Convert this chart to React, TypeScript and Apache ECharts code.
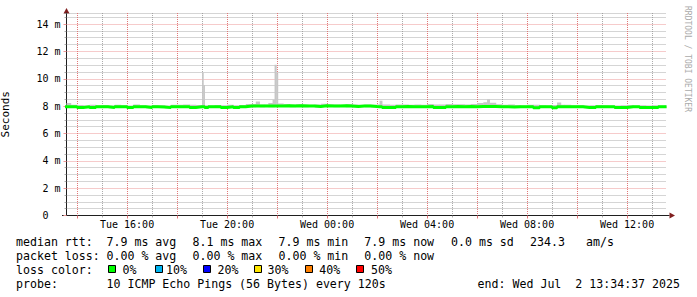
import React, { useEffect, useRef } from 'react';
import * as echarts from 'echarts';

// Time axis in hours since Tue 00:00 (24 = Wed 00:00)
const START = 13.5775; // Tue 13:34:39
const END = 37.5775; // Wed 13:34:37
const Y_MAX = 14.81; // milliseconds

const times = [
  13.5, 13.75, 14.0, 14.25, 14.5, 14.75, 15.0, 15.25, 15.5, 15.75,
  16.0, 16.25, 16.5, 16.75, 17.0, 17.25, 17.5, 17.75, 18.0, 18.25,
  18.5, 18.75, 19.0, 19.05, 19.1, 19.25, 19.5, 19.75, 20.0, 20.25,
  20.5, 20.75, 21.0, 21.15, 21.3, 21.5, 21.65, 21.82, 21.9, 21.97,
  22.03, 22.25, 22.5, 22.75, 23.0, 23.25, 23.5, 23.75, 24.0, 24.25,
  24.5, 24.75, 25.0, 25.25, 25.5, 25.75, 26.0, 26.1, 26.2, 26.5,
  26.75, 27.0, 27.25, 27.5, 27.75, 28.0, 28.25, 28.5, 28.75, 29.0,
  29.25, 29.5, 29.75, 30.0, 30.25, 30.4, 30.5, 30.75, 31.0, 31.25,
  31.5, 31.75, 32.0, 32.25, 32.5, 32.75, 33.0, 33.2, 33.35, 33.5,
  33.75, 34.0, 34.25, 34.5, 34.75, 35.0, 35.25, 35.5, 35.75, 36.0,
  36.25, 36.5, 36.75, 37.0, 37.25, 37.5, 37.58,
];

const median = [
  7.95, 7.96, 7.9, 7.95, 7.89, 7.96, 7.95, 7.9, 7.96, 7.95,
  7.89, 7.96, 7.95, 7.9, 7.96, 7.94, 7.89, 7.96, 7.95, 7.96,
  7.9, 7.95, 7.96, 7.95, 7.89, 7.95, 7.96, 7.9, 7.95, 7.89,
  7.96, 8.0, 8.0, 8.01, 8.0, 8.01, 8.0, 8.0, 8.01, 8.0,
  8.01, 8.02, 8.0, 8.02, 8.0, 8.01, 7.98, 8.02, 8.01, 8.0,
  8.02, 8.0, 7.98, 8.01, 8.0, 7.97, 7.96, 7.96, 7.9, 7.9,
  7.96, 7.97, 7.95, 7.96, 7.96, 7.97, 7.9, 7.89, 7.95, 7.97,
  7.96, 7.97, 7.96, 7.98, 7.97, 7.98, 7.97, 7.96, 7.95, 7.94,
  7.96, 7.95, 7.96, 7.88, 7.95, 7.96, 7.88, 7.95, 7.96, 7.96,
  7.95, 7.95, 7.9, 7.89, 7.95, 7.96, 7.95, 7.89, 7.9, 7.95,
  7.96, 7.89, 7.9, 7.89, 7.95, 7.96, 7.96,
];

const smokeLow = [
  7.86, 7.88, 7.85, 7.87, 7.84, 7.88, 7.87, 7.85, 7.88, 7.87,
  7.84, 7.88, 7.87, 7.85, 7.88, 7.87, 7.84, 7.88, 7.87, 7.88,
  7.85, 7.87, 7.88, 7.87, 7.84, 7.87, 7.88, 7.85, 7.87, 7.84,
  7.88, 7.92, 7.92, 7.93, 7.92, 7.93, 7.92, 7.92, 7.93, 7.92,
  7.93, 7.94, 7.92, 7.94, 7.92, 7.93, 7.9, 7.94, 7.93, 7.92,
  7.94, 7.92, 7.9, 7.93, 7.92, 7.89, 7.88, 7.88, 7.85, 7.85,
  7.88, 7.89, 7.87, 7.88, 7.88, 7.89, 7.85, 7.84, 7.87, 7.89,
  7.88, 7.89, 7.88, 7.9, 7.89, 7.9, 7.89, 7.88, 7.87, 7.87,
  7.88, 7.87, 7.88, 7.83, 7.87, 7.88, 7.83, 7.87, 7.88, 7.88,
  7.87, 7.87, 7.85, 7.84, 7.87, 7.88, 7.87, 7.84, 7.85, 7.87,
  7.88, 7.84, 7.85, 7.84, 7.87, 7.88, 7.88,
];

const smokeHigh = [
  8.22, 8.1, 8.08, 8.05, 8.1, 8.06, 8.08, 8.05, 8.1, 8.07,
  8.05, 8.12, 8.06, 8.05, 8.08, 8.06, 8.05, 8.1, 8.1, 8.12,
  8.1, 8.08, 10.45, 9.55, 8.06, 8.05, 8.08, 8.06, 8.1, 8.06,
  8.08, 8.15, 8.15, 8.34, 8.12, 8.12, 8.22, 8.46, 11.02, 10.4,
  8.2, 8.15, 8.12, 8.15, 8.12, 8.1, 8.12, 8.18, 8.14, 8.12,
  8.1, 8.15, 8.12, 8.1, 8.12, 8.1, 8.12, 8.39, 8.12, 8.1,
  8.12, 8.12, 8.1, 8.12, 8.1, 8.15, 8.12, 8.12, 8.15, 8.14,
  8.14, 8.12, 8.15, 8.22, 8.28, 8.5, 8.25, 8.14, 8.1, 8.12,
  8.08, 8.05, 8.1, 8.1, 8.06, 8.05, 8.08, 8.27, 8.1, 8.1,
  8.06, 8.08, 8.05, 8.06, 8.08, 8.06, 8.05, 8.05, 8.06, 8.08,
  8.05, 8.06, 8.05, 8.06, 8.05, 8.06, 8.06,
];

const yMinorTicks = [0.5, 1, 1.5, 2.5, 3, 3.5, 4.5, 5, 5.5, 6.5, 7, 7.5, 8.5, 9, 9.5, 10.5, 11, 11.5, 12.5, 13, 13.5, 14.5, Y_MAX];
const yMajorTicks = [0, 2, 4, 6, 8, 10, 12, 14];
const xMinorTicks = [15, 17, 19, 21, 23, 25, 27, 29, 31, 33, 35, 37];
const xMajorTicks = [14, 16, 18, 20, 22, 24, 26, 28, 30, 32, 34, 36];

const legendRow1 = ['median rtt:', '7.9 ms avg', '8.1 ms max', '7.9 ms min', '7.9 ms now', '0.0 ms sd', '234.3', 'am/s'];
const legendRow2 = ['packet loss:', '0.00 % avg', '0.00 % max', '0.00 % min', '0.00 % now'];
const lossLabels = ['0%', '10%', '20%', '30%', '40%', '50%'];
const lossColors = ['#00ff00', '#00b4f0', '#0000ff', '#ffe600', '#ff8000', '#ff0000'];
const probeText = ['probe:', '10 ICMP Echo Pings (56 Bytes) every 120s'];
const endText = 'end: Wed Jul  2 13:34:37 2025';

const MONO = "'DejaVu Sans Mono', monospace";
const GRID_MINOR = 'rgba(143,143,143,0.75)';
const GRID_MAJOR_Y = 'rgb(236,150,150)';
const GRID_MAJOR_X = 'rgb(226,118,118)';
const AXIS = '#1f1f1f';
const ARROW = '#801f1f';
const SMOKE = '#c6c6c6';

const dayLabel = (h: number) =>
  Math.round(h) % 4 !== 0
    ? ''
    : `${h < 24 ? 'Tue' : 'Wed'} ${String(Math.round(h) % 24).padStart(2, '0')}:00`;

function buildOption() {
  // each smoke row: [from, to, low, high]
  const smokeRows = times.slice(0, -1).map((t, i) => [t, times[i + 1], smokeLow[i], smokeHigh[i]]);
  const medData = times.map((t, i) => [t, median[i]]);

  const row1X = [16, 106.5, 192.5, 278.5, 364.3, 451, 530, 586];
  const row2X = [16, 106.5, 192.5, 278.5, 364.3];
  const boxX = [108.5, 155.5, 203.5, 254.5, 305.5, 356.5];
  const boxLabelX = [122.6, 166, 217.6, 267.6, 319.3, 371];
  const txt = (text: string, x: number, y: number, extra: any = {}) => ({
    type: 'text',
    x,
    y,
    silent: true,
    style: {
      text,
      fontFamily: MONO,
      fontSize: 11.6,
      fill: '#000',
      verticalAlign: 'middle',
      align: 'left',
      ...extra,
    },
  });

  const elements: any[] = [];
  legendRow1.forEach((t, i) => elements.push(txt(t, row1X[i], 241.5)));
  legendRow2.forEach((t, i) => elements.push(txt(t, row2X[i], 255.5)));
  elements.push(txt('loss color:', 16, 269.5));
  lossLabels.forEach((t, i) => {
    elements.push({
      type: 'rect',
      silent: true,
      shape: { x: boxX[i], y: 265.5, width: 7, height: 7 },
      style: { fill: lossColors[i], stroke: '#000', lineWidth: 1 },
    });
    elements.push(txt(t, boxLabelX[i], 269.5));
  });
  elements.push(txt(probeText[0], 16, 283.5));
  elements.push(txt(probeText[1], 106.5, 283.5));
  elements.push(txt(endText, 680, 283.5, { align: 'right' }));
  elements.push({
    type: 'text',
    x: 687.5,
    y: 59,
    rotation: -Math.PI / 2,
    silent: true,
    style: {
      text: 'RRDTOOL / TOBI OETIKER',
      fontFamily: MONO,
      fontSize: 8,
      fill: '#aaaaaa',
      align: 'center',
      verticalAlign: 'middle',
    },
  });
  elements.push({
    type: 'line',
    silent: true,
    shape: { x1: 62, y1: 215.5, x2: 669.5, y2: 215.5 },
    style: { stroke: AXIS, lineWidth: 1 },
  });
  elements.push({
    type: 'polygon',
    silent: true,
    shape: { points: [[63.5, 13.5], [69.5, 13.5], [66.5, 8]] },
    style: { fill: ARROW },
  });
  elements.push({
    type: 'polygon',
    silent: true,
    shape: { points: [[669.5, 212.5], [669.5, 218.5], [675, 215.5]] },
    style: { fill: ARROW },
  });

  return {
    animation: false,
    backgroundColor: '#ffffff',
    grid: { left: 66.5, top: 13, width: 600, height: 202.5, containLabel: false, outerBoundsMode: 'none' },
    xAxis: [
      {
        type: 'value',
        min: START,
        max: END,
        position: 'bottom',
        axisLine: { show: false },
        axisTick: { show: true, customValues: xMinorTicks, length: 2, lineStyle: { color: GRID_MINOR } },
        axisLabel: { show: false, customValues: xMinorTicks },
        splitLine: { show: true, lineStyle: { color: GRID_MINOR, width: 1, type: [1, 1] } },
      },
      {
        type: 'value',
        min: START,
        max: END,
        position: 'bottom',
        axisLine: { show: true, lineStyle: { color: AXIS, width: 1 } },
        axisTick: { show: true, customValues: xMajorTicks, length: 3, lineStyle: { color: GRID_MAJOR_X } },
        axisLabel: {
          show: true,
          customValues: xMajorTicks,
          formatter: (v: number) => dayLabel(v),
          fontFamily: MONO,
          fontSize: 10,
          color: '#000',
          margin: 4,
        },
        splitLine: { show: true, lineStyle: { color: GRID_MAJOR_X, width: 1, type: [1, 1] } },
      },
    ],
    yAxis: [
      {
        type: 'value',
        min: 0,
        max: Y_MAX,
        position: 'left',
        axisLine: { show: false },
        axisTick: { show: true, customValues: yMinorTicks, length: 2, lineStyle: { color: GRID_MINOR } },
        axisLabel: { show: false, customValues: yMinorTicks },
        splitLine: { show: true, lineStyle: { color: GRID_MINOR, width: 1, type: [1, 1] } },
      },
      {
        type: 'value',
        min: 0,
        max: Y_MAX,
        position: 'left',
        name: 'Seconds',
        nameLocation: 'middle',
        nameGap: 56,
        nameTextStyle: { fontFamily: MONO, fontSize: 11, color: '#000' },
        axisLine: { show: true, lineStyle: { color: AXIS, width: 1 } },
        axisTick: { show: true, customValues: yMajorTicks, length: 3, lineStyle: { color: GRID_MAJOR_Y } },
        axisLabel: {
          show: true,
          customValues: yMajorTicks,
          formatter: (v: number) => (v === 0 ? '{z|0}' : `${v} m`),
          rich: { z: { fontFamily: MONO, fontSize: 10, color: '#000', padding: [0, 12, 0, 0] } },
          fontFamily: MONO,
          fontSize: 10,
          color: '#000',
          margin: 6,
        },
        splitLine: { show: true, lineStyle: { color: GRID_MAJOR_Y, width: 1, type: [1, 1] } },
      },
    ],
    series: [
      {
        name: 'smoke',
        type: 'custom',
        xAxisIndex: 1,
        yAxisIndex: 1,
        silent: true,
        clip: true,
        encode: { x: [0, 1], y: [2, 3] },
        data: smokeRows,
        z: 2,
        renderItem: (params: any, api: any) => {
          const p0 = api.coord([api.value(0), api.value(3)]);
          const p1 = api.coord([api.value(1), api.value(2)]);
          const cs = params.coordSys;
          const shape = echarts.graphic.clipRectByRect(
            { x: p0[0], y: p0[1], width: p1[0] - p0[0] + 0.4, height: p1[1] - p0[1] },
            { x: cs.x, y: cs.y, width: cs.width, height: cs.height }
          );
          if (!shape) return null;
          return { type: 'rect', shape, style: { fill: SMOKE } };
        },
      },
      {
        name: 'median rtt',
        type: 'line',
        xAxisIndex: 1,
        yAxisIndex: 1,
        step: 'end',
        symbol: 'none',
        silent: true,
        lineStyle: { width: 3, color: '#00ff00' },
        data: medData,
        z: 3,
      },
    ],
    graphic: { elements },
  };
}

export default function App() {
  const ref = useRef<HTMLDivElement>(null);
  useEffect(() => {
    if (!ref.current) return;
    const chart = echarts.init(ref.current, null, { renderer: 'svg' });
    chart.setOption(buildOption() as any);
    return () => chart.dispose();
  }, []);
  return (
    <div
      ref={ref}
      style={{ position: 'absolute', left: 0, top: 0, width: 697, height: 297, background: '#ffffff' }}
    />
  );
}
